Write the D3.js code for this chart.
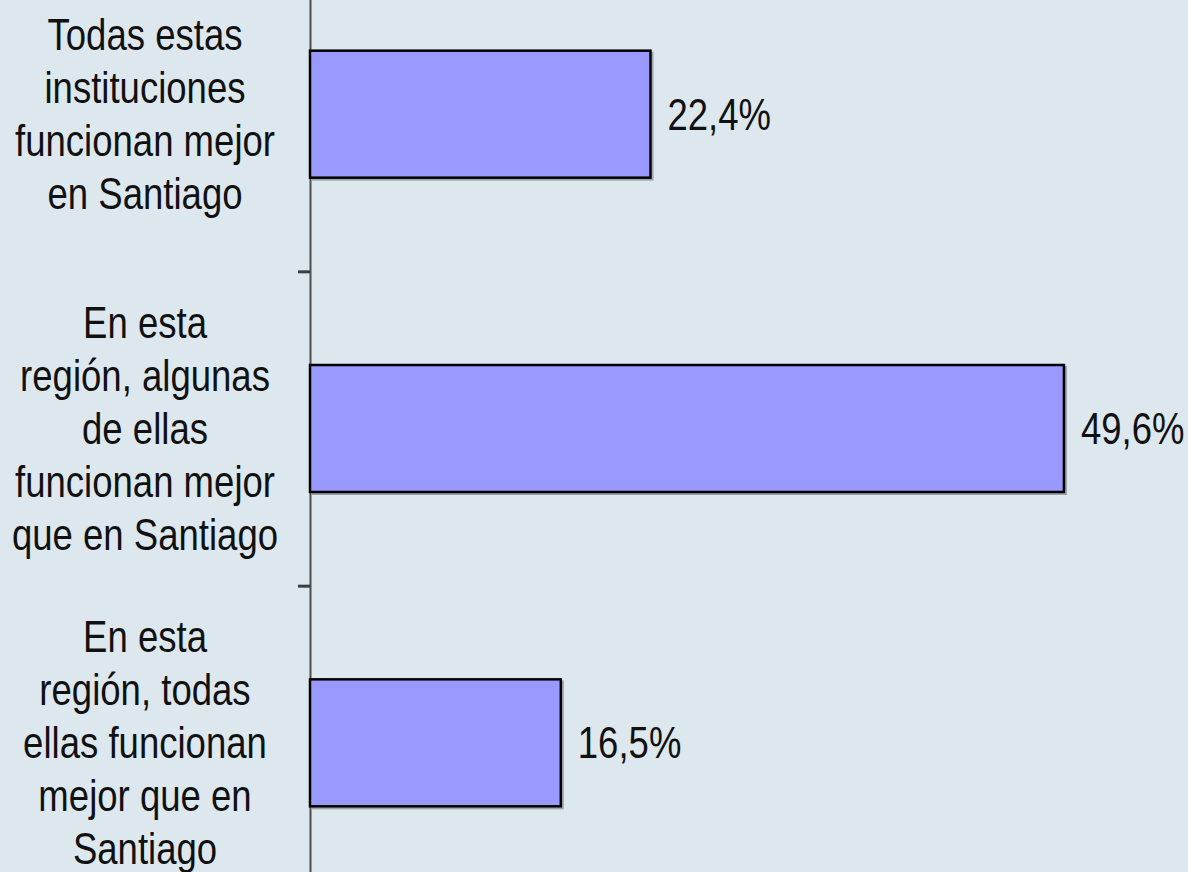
<!DOCTYPE html>
<html><head><meta charset="utf-8">
<script src="https://cdn.jsdelivr.net/npm/d3@7"></script>
<style>
html,body{margin:0;padding:0;background:#dde8ee;}
svg{display:block;}
</style></head>
<body>
<script>
const categories = [
  ["Todas estas","instituciones","funcionan mejor","en Santiago"],
  ["En esta","región, algunas","de ellas","funcionan mejor","que en Santiago"],
  ["En esta","región, todas","ellas funcionan","mejor que en","Santiago"]
];
const values = [22.4, 49.6, 16.5];
const valueLabels = ["22,4%", "49,6%", "16,5%"];

const W = 1188, H = 872;
const svg = d3.select("body").append("svg").attr("width", W).attr("height", H);
svg.append("rect").attr("width", W).attr("height", H).attr("fill", "#dde8ee");

const ids = categories.map((c, i) => "c" + i);
const x = d3.scaleLinear().domain([0, 60]).range([310, 310 + 912]);
const y = d3.scaleBand().domain(ids).range([-43, 900]).paddingInner(0.596).paddingOuter(0.298);

const font = "'Liberation Sans Narrow','Arial Narrow','Liberation Sans',Arial,sans-serif";
const fs = 44;

// measure to emulate a narrow face
const probe = svg.append("text").attr("font-family", font).attr("font-size", fs).text("funcionan mejor");
const sx = Math.min(1, 260 / probe.node().getComputedTextLength());
probe.remove();

// axis
const yb = d3.scaleLinear().domain([0, ids.length]).range([y.range()[0], y.range()[1]]);
const axis = d3.axisLeft(yb).tickValues(d3.range(0, ids.length + 1)).tickSize(12).tickSizeOuter(0).tickFormat("");
const ag = svg.append("g").attr("transform", `translate(${x(0)},0)`).call(axis);
ag.select(".domain").attr("stroke", "#4a4f52").attr("stroke-width", 2);
ag.selectAll(".tick line").attr("stroke", "#3a3f42").attr("stroke-width", 3);

// bar shadows
svg.append("g").selectAll("rect").data(values).join("rect")
  .attr("x", x(0) + 2).attr("y", (d, i) => y(ids[i]) + 2)
  .attr("width", d => x(d) - x(0)).attr("height", y.bandwidth())
  .attr("fill", "none").attr("stroke", "#9aa4aa").attr("stroke-width", 2);

// bars
svg.append("g").selectAll("rect").data(values).join("rect")
  .attr("x", x(0)).attr("y", (d, i) => y(ids[i]))
  .attr("width", d => x(d) - x(0)).attr("height", y.bandwidth())
  .attr("fill", "#9999ff").attr("stroke", "#000").attr("stroke-width", 2.5);

// value labels
svg.append("g").selectAll("g").data(values).join("g")
  .attr("transform", (d, i) => `translate(${x(d) + 17},${y(ids[i]) + y.bandwidth() / 2}) scale(${sx},1)`)
  .append("text")
  .attr("dy", "0.35em")
  .attr("font-family", font).attr("font-size", fs).attr("fill", "#111")
  .text((d, i) => valueLabels[i]);

// category labels
const lh = 53;
const cg = svg.append("g");
categories.forEach((lines, i) => {
  const cy = y(ids[i]) + y.bandwidth() / 2;
  const t = cg.append("g").attr("transform", `translate(145,0) scale(${sx},1)`)
    .append("text").attr("text-anchor", "middle")
    .attr("font-family", font).attr("font-size", fs).attr("fill", "#111");
  lines.forEach((ln, j) => {
    t.append("tspan").attr("x", 0)
      .attr("y", cy + (j - (lines.length - 1) / 2) * lh)
      .attr("dy", "0.35em").text(ln);
  });
});
</script>
</body></html>
